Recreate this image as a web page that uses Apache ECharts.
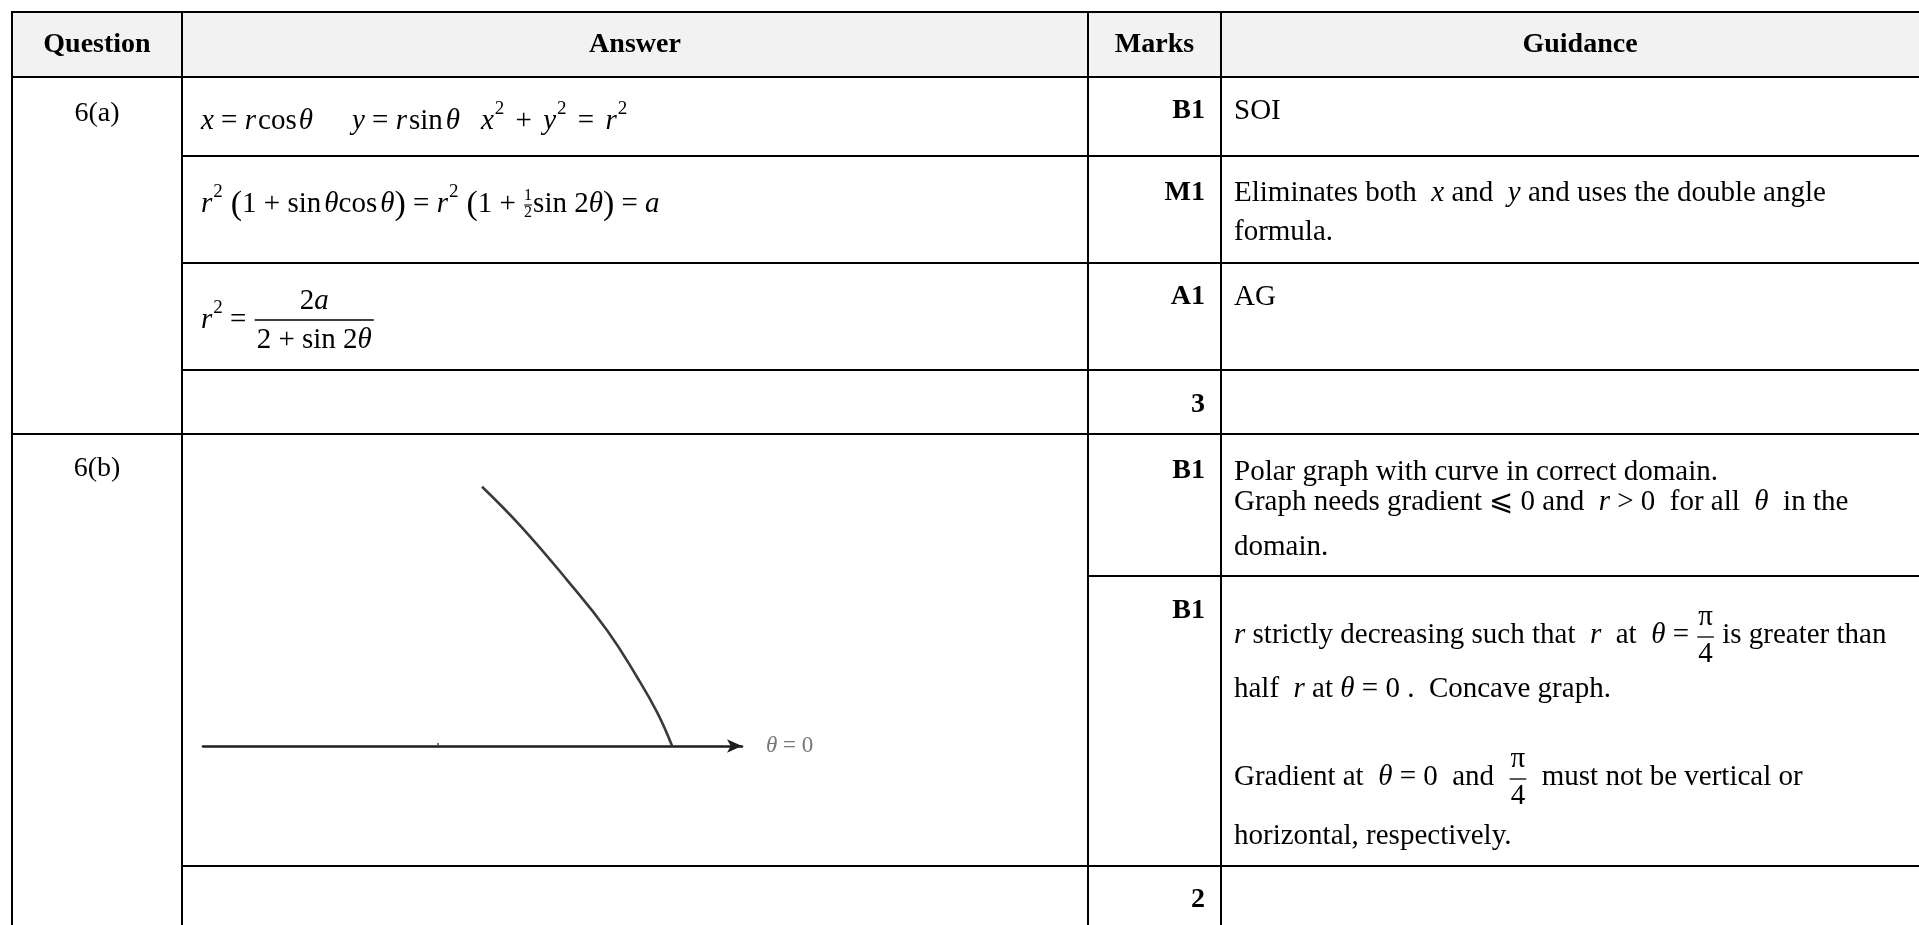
<!DOCTYPE html>
<html lang="en">
<head>
    <meta charset="UTF-8">
    <title>Question 6 mark scheme</title>
    <script src="https://cdn.jsdelivr.net/npm/echarts@6/dist/echarts.min.js"></script>
    <style>
        html, body {
            margin: 0;
            padding: 0;
            background: #fff;
        }

        #main {
            width: 1919px;
            height: 925px;
        }
    </style>
</head>

<body>
<div id="main"></div>

<script>
    // sketch of r^2 = 2a / (2 + sin 2θ) (r scaled so that r at θ=0 is 1)
    var curveTheta = [0, 4.2, 9.0, 16.0, 24.5, 34.5, 42.9];
    var curveR = [1.000, 0.971, 0.937, 0.896, 0.853, 0.824, 0.812];
    // the little mark on the initial line, at half of r(0)
    var halfMark = [0.5];

    var headers = ['Question', 'Answer', 'Marks', 'Guidance'];
    var questions = ['6(a)', '6(b)'];
    var marks = ['B1', 'M1', 'A1', '3', 'B1', 'B1', '2'];

    // ---- layout (px) ----
    var colX = [12, 182, 1088, 1221, 1939];
    var headTop = 12, headBottom = 77;
    var questionY = [114, 469];
    var markY = [111, 193, 297, 405, 471, 611, 900];
    var answerX = 201, guideX = 1234, markRight = 1205;

    var SERIF = '"Liberation Serif", "Times New Roman", "DejaVu Serif", serif';
    var BASE = 29;
    var measureCtx = document.createElement('canvas').getContext('2d');

    function fontOf(s) {
        return (s.it ? 'italic ' : 'normal ') + (s.b ? 'bold ' : 'normal ') + (s.s || BASE) + 'px ' + SERIF;
    }

    function I(t) {
        return {t: t, it: true};
    }

    function SUP(t) {
        return {t: t, s: 19, dy: -12, dx: 1};
    }

    function GAP(w) {
        return {t: '', dx: w};
    }

    function FRAC(num, den, opt) {
        var f = {num: num, den: den, nd: -18, dd: 19, bar: 2, pad: 2};
        for (var k in opt) f[k] = opt[k];
        return f;
    }

    function textEl(x, y, t, font, align) {
        return {
            type: 'text', x: x, y: y, silent: true,
            style: {
                text: t, font: font, fill: '#000',
                textAlign: align, align: align,
                textVerticalAlign: 'middle', verticalAlign: 'middle'
            }
        };
    }

    function lineEl(x1, y1, x2, y2, w) {
        return {
            type: 'line', silent: true,
            shape: {x1: x1, y1: y1, x2: x2, y2: y2},
            style: {stroke: '#000', lineWidth: w || 2}
        };
    }

    // lays a row of text pieces left to right, returns the end x
    function place(segs, x, y, out) {
        segs.forEach(function (raw) {
            var s = typeof raw === 'string' ? {t: raw} : raw;
            x += s.dx || 0;
            if (s.num) {
                var wn = place(s.num, 0, 0, null);
                var wd = place(s.den, 0, 0, null);
                var w = Math.max(wn, wd) + 2 * s.pad;
                if (out) {
                    place(s.num, x + (w - wn) / 2, y + s.nd, out);
                    place(s.den, x + (w - wd) / 2, y + s.dd, out);
                    out.push(lineEl(x + 1, y + s.bar, x + w - 1, y + s.bar, s.lw || 1.3));
                }
                x += w;
                return;
            }
            var font = fontOf(s);
            measureCtx.font = font;
            var tw = measureCtx.measureText(s.t || '').width;
            if (out && s.t) out.push(textEl(x, y + (s.dy || 0), s.t, font, 'left'));
            x += tw;
        });
        return x;
    }

    var els = [];

    // header band
    els.push({
        type: 'rect', silent: true,
        shape: {x: colX[0], y: headTop, width: 1919 - colX[0], height: headBottom - headTop},
        style: {fill: '#f2f2f2'}
    });
    headers.forEach(function (h, i) {
        els.push(textEl((colX[i] + colX[i + 1]) / 2, 45, h, fontOf({b: true, s: 28}), 'center'));
    });

    // grid lines
    els.push(lineEl(colX[0], headTop, 1919, headTop));
    els.push(lineEl(colX[0], headBottom, 1919, headBottom));
    [0, 1, 2, 3].forEach(function (i) {
        els.push(lineEl(colX[i], headTop - 1, colX[i], 925));
    });
    [156, 263, 370].forEach(function (y) {
        els.push(lineEl(colX[1], y, 1919, y));
    });
    els.push(lineEl(colX[0], 434, 1919, 434));
    els.push(lineEl(colX[2], 576, 1919, 576));
    els.push(lineEl(colX[1], 866, 1919, 866));

    // question numbers and marks
    questions.forEach(function (q, i) {
        els.push(textEl((colX[0] + colX[1]) / 2, questionY[i], q, fontOf({s: 28}), 'center'));
    });
    marks.forEach(function (m, i) {
        els.push(textEl(markRight, markY[i], m, fontOf({b: true, s: 28}), 'right'));
    });

    // answers
    place([I('x'), ' = ', I('r'), GAP(2), 'cos', GAP(2), I('θ')], answerX, 121, els);
    place([I('y'), ' = ', I('r'), GAP(2), 'sin', GAP(3), I('θ')], 352, 121, els);
    place([I('x'), SUP('2'), GAP(4), ' + ', GAP(4), I('y'), SUP('2'), GAP(4), ' = ', GAP(4), I('r'), SUP('2')], 481, 121, els);

    place([I('r'), SUP('2'), {t: '(', s: 34, dx: 8, dy: 1}, '1 + sin', GAP(3), I('θ'), 'cos', GAP(3), I('θ'),
        {t: ')', s: 34, dy: 1}, ' = ', I('r'), SUP('2'), {t: '(', s: 34, dx: 8, dy: 1}, '1 + ',
        FRAC([{t: '1', s: 16}], [{t: '2', s: 16}], {nd: -8, dd: 9, bar: 1, pad: 1, lw: 1}),
        'sin 2', I('θ'), {t: ')', s: 34, dy: 1}, ' = ', I('a')], answerX, 204, els);

    place([I('r'), SUP('2'), ' = ', FRAC(['2', I('a')], ['2 + sin 2', I('θ')], {nd: -19, dd: 20, bar: 0, pad: 3})],
        answerX, 320, els);

    // guidance
    place(['SOI'], guideX, 111, els);
    place(['Eliminates both  ', I('x'), ' and  ', I('y'), ' and uses the double angle'], guideX, 193, els);
    place(['formula.'], guideX, 232, els);
    place(['AG'], guideX, 297, els);
    place(['Polar graph with curve in correct domain.'], guideX, 472, els);
    place(['Graph needs gradient ', '⩽', ' 0 and  ', I('r'), ' > 0  for all  ', I('θ'), '  in the'], guideX, 502, els);
    place(['domain.'], guideX, 547, els);
    place([I('r'), ' strictly decreasing such that  ', I('r'), '  at  ', I('θ'), ' = ', FRAC(['π'], ['4']), ' is greater than'],
        guideX, 635, els);
    place(['half  ', I('r'), ' at ', I('θ'), ' = 0 .  Concave graph.'], guideX, 689, els);
    place(['Gradient at  ', I('θ'), ' = 0  and  ', FRAC(['π'], ['4']), '  must not be vertical or'], guideX, 777, els);
    place(['horizontal, respectively.'], guideX, 836, els);

    var curveData = curveR.map(function (r, i) {
        return [r, curveTheta[i]];
    });

    var chart = echarts.init(document.getElementById('main'));
    var option = {
        animation: false,
        polar: {
            center: [203, 746],
            radius: 539
        },
        angleAxis: {
            type: 'value',
            min: 0,
            max: 360,
            startAngle: 0,
            clockwise: false,
            axisLine: {show: false},
            axisTick: {show: false},
            axisLabel: {show: false},
            splitLine: {show: false}
        },
        radiusAxis: {
            type: 'value',
            min: 0,
            max: 1.149,
            axisLine: {
                show: true,
                symbol: ['none', 'arrow'],
                symbolSize: [10, 15],
                lineStyle: {color: '#1e1e1e', width: 2.6}
            },
            axisTick: {
                show: true,
                customValues: halfMark,
                length: 3,
                lineStyle: {color: '#444', width: 1.5}
            },
            axisLabel: {show: false},
            splitLine: {show: false},
            name: '{t|θ} = 0',
            nameLocation: 'end',
            nameGap: 24,
            nameTextStyle: {
                fontFamily: SERIF,
                fontSize: 23,
                color: '#777',
                rich: {
                    t: {fontFamily: SERIF, fontSize: 23, fontStyle: 'italic', color: '#777'}
                }
            }
        },
        series: [{
            type: 'line',
            coordinateSystem: 'polar',
            data: curveData,
            smooth: 0.45,
            symbol: 'none',
            silent: true,
            lineStyle: {color: '#3a3a3a', width: 2.6}
        }],
        graphic: els
    };
    chart.setOption(option);
</script>
</body>

</html>
